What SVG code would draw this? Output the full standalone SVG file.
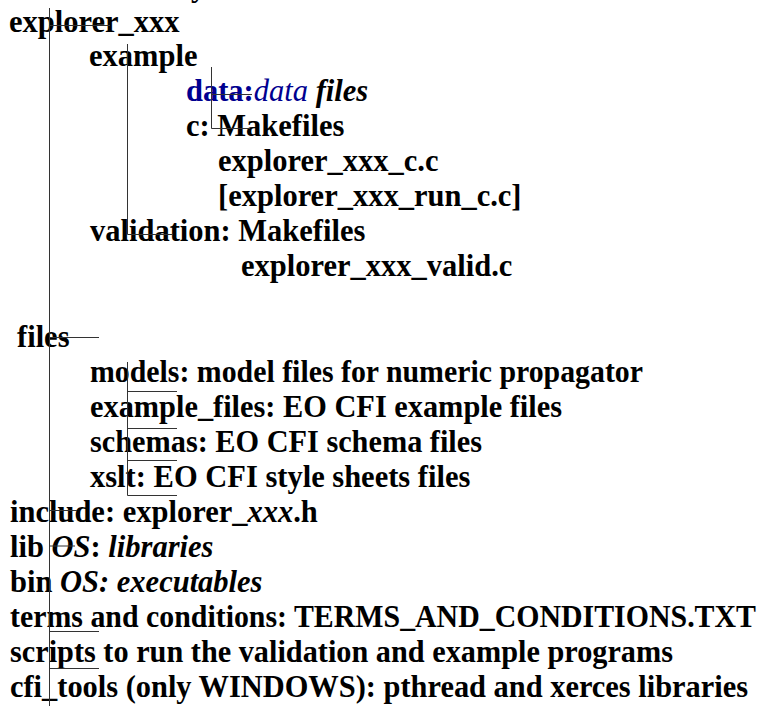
<svg xmlns="http://www.w3.org/2000/svg" width="767" height="706" viewBox="0 0 767 706">
<style>
text{font-family:"Liberation Serif","Times New Roman",serif;font-size:30.5px;font-weight:bold;fill:#000}
.i{font-style:italic}
.n{font-weight:normal}
.blue{fill:#000090}
.ln{stroke:#333;stroke-width:1;fill:none}
</style>
<rect width="767" height="706" fill="#fff"/>
<g id="top-fragment"><text x="191" y="-4">y</text></g>
<g id="explorer_xxx"><text x="9" y="32">explorer_xxx</text></g>
<g id="example"><text x="89" y="66">example</text></g>
<g id="data"><text x="186" y="101"><tspan class="blue">data:</tspan><tspan class="blue i n">data</tspan><tspan class="i"> files</tspan></text></g>
<g id="c"><text x="186" y="136">c: Makefiles</text></g>
<g id="explorer_xxx_c"><text x="218" y="171">explorer_xxx_c.c</text></g>
<g id="explorer_xxx_run_c"><text x="218" y="206">[explorer_xxx_run_c.c]</text></g>
<g id="validation"><text x="90" y="241">validation: Makefiles</text></g>
<g id="explorer_xxx_valid"><text x="241" y="276">explorer_xxx_valid.c</text></g>
<g id="files"><text x="17" y="347">files</text></g>
<g id="models"><text x="90" y="382" textLength="553" lengthAdjust="spacingAndGlyphs">models: model files for numeric propagator</text></g>
<g id="example_files"><text x="90" y="417" textLength="472" lengthAdjust="spacingAndGlyphs">example_files: EO CFI example files</text></g>
<g id="schemas"><text x="90" y="452" textLength="392" lengthAdjust="spacingAndGlyphs">schemas: EO CFI schema files</text></g>
<g id="xslt"><text x="90" y="487">xslt: EO CFI style sheets files</text></g>
<g id="include"><text x="10" y="522">include: explorer_<tspan class="i">xxx</tspan>.h</text></g>
<g id="lib"><text x="10" y="557">lib <tspan class="i">OS</tspan>: <tspan class="i">libraries</tspan></text></g>
<g id="bin"><text x="10" y="592">bin <tspan class="i">OS: executables</tspan></text></g>
<g id="terms"><text x="10" y="627" textLength="746" lengthAdjust="spacingAndGlyphs">terms and conditions: TERMS_AND_CONDITIONS.TXT</text></g>
<g id="scripts"><text x="10" y="662" textLength="663" lengthAdjust="spacingAndGlyphs">scripts to run the validation and example programs</text></g>
<g id="cfi_tools"><text x="10" y="697" textLength="738" lengthAdjust="spacingAndGlyphs">cfi_tools (only WINDOWS): pthread and xerces libraries</text></g>
<g id="connectors" class="ln">
<path d="M49.5 8V706"/>
<path d="M49.5 25.5H110"/>
<path d="M127.5 44V234.5H173"/>
<path d="M211.5 67V128.5H250"/>
<path d="M211.5 94.5H252"/>
<path d="M49.5 337.5H99"/>
<path d="M127.5 362V495.5H177"/>
<path d="M127.5 391.5H177"/>
<path d="M127.5 428.5H177"/>
<path d="M127.5 460.5H177"/>
<path d="M49.5 510.5H77"/>
<path d="M49.5 546H75"/>
<path d="M49.5 631.5H99"/>
<path d="M49.5 668.5H99"/>
</g>
</svg>
